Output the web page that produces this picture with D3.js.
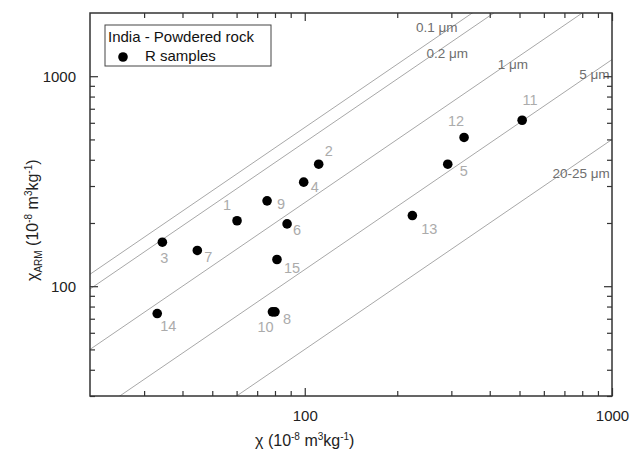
<!DOCTYPE html>
<html>
<head>
<meta charset="utf-8">
<script src="https://cdn.jsdelivr.net/npm/d3@7"></script>
<style>
  body { margin: 0; background: #fff; }
  text { font-family: Arial, "Liberation Sans", sans-serif; }
</style>
</head>
<body>
<div id="chart"></div>
<script>
// sample data: chi (x) and chi_ARM (y), 10^-8 m3/kg
const sampleIds = ["1","2","3","4","5","6","7","8","9","10","11","12","13","14","15"];
const chiValues = [60.2, 111, 34.4, 99.2, 292, 87.6, 44.7, 80.0, 75.4, 78.5, 510, 330, 224, 33.1, 81.2];
const chiArmValues = [205, 381, 162, 313, 381, 198, 148, 75.5, 255, 75.5, 617, 511, 217, 74.1, 134];

// grain-size reference lines: chiARM = ratio * chi
const grainLabels = ["0.1 μm", "0.2 μm", "1 μm", "5 μm", "20-25 μm"];
const grainRatios = [5.7, 4.85, 2.5, 1.2, 0.5];
const grainLabelChi = [269, 291, 476, 877, 793];

const xMajorTicks = [100, 1000];
const yMajorTicks = [100, 1000];
const minorTicks = [30, 40, 50, 60, 70, 80, 90, 200, 300, 400, 500, 600, 700, 800, 900];

// label placement (pixels, relative to point)
const labelOffsets = [[-10,-11],[10,-8],[2,21],[11,10],[16,12],[10,11],[11,12],[12,12],[14,8],[-7,20],[8,-15],[-8,-11],[17,18],[11,17],[15,13]];
const grainLabelDy = [-5, 13.5, 9, 7.6, 17.5];

const margin = {top: 13, right: 28, bottom: 56, left: 90};
const width = 640 - margin.left - margin.right;
const height = 452 - margin.top - margin.bottom;

const svg = d3.select("#chart").append("svg")
    .attr("width", 640)
    .attr("height", 452)
    .append("g")
    .attr("transform", `translate(${margin.left},${margin.top})`);

const x = d3.scaleLog().domain([20, 1000]).range([0, width]);
const y = d3.scaleLog().domain([30, 2000]).range([height, 0]);

svg.append("clipPath").attr("id", "clip")
    .append("rect").attr("width", width).attr("height", height);

// reference lines
const line = d3.line().x(d => x(d[0])).y(d => y(d[1]));
svg.append("g").attr("clip-path", "url(#clip)")
    .selectAll("path")
    .data(grainRatios)
    .join("path")
    .attr("d", k => line([[20, 20 * k], [1000, 1000 * k]]))
    .attr("fill", "none")
    .attr("stroke", "#a8a8a8")
    .attr("stroke-width", 1);

svg.append("g").selectAll("text")
    .data(grainLabels)
    .join("text")
    .attr("x", (d, i) => x(grainLabelChi[i]))
    .attr("y", (d, i) => y(grainLabelChi[i] * grainRatios[i]) + grainLabelDy[i])
    .attr("text-anchor", "middle")
    .attr("font-size", 13.5)
    .attr("fill", "#6e6e6e")
    .text(d => d);

// axes
function drawAxis(axisFn, transform, major, fmt) {
    let g = svg.append("g").attr("transform", transform);
    g.call(axisFn(major === "x" ? x : y).tickValues(minorTicks).tickSize(-5).tickFormat(""));
    g.call(g2 => g2.select(".domain").remove());
    let g3 = svg.append("g").attr("transform", transform);
    g3.call(axisFn(major === "x" ? x : y).tickValues(major === "x" ? xMajorTicks : yMajorTicks)
        .tickSize(-8).tickPadding(fmt ? 14 : 0).tickFormat(fmt ? d3.format("d") : ""));
    g3.select(".domain").remove();
    svg.selectAll(".tick line").attr("stroke", "#333").attr("stroke-width", 1.2);
    g3.selectAll("text").attr("font-size", 15).attr("fill", "#222").attr("font-family", "Arial, 'Liberation Sans', sans-serif");
}
drawAxis(d3.axisBottom, `translate(0,${height})`, "x", true);
drawAxis(d3.axisTop, "translate(0,0)", "x", false);
drawAxis(d3.axisLeft, "translate(0,0)", "y", true);
drawAxis(d3.axisRight, `translate(${width},0)`, "y", false);

svg.append("rect")
    .attr("width", width).attr("height", height)
    .attr("fill", "none").attr("stroke", "#333").attr("stroke-width", 1.5);

// points
svg.append("g").selectAll("circle")
    .data(sampleIds)
    .join("circle")
    .attr("cx", (d, i) => x(chiValues[i]))
    .attr("cy", (d, i) => y(chiArmValues[i]))
    .attr("r", 4.8)
    .attr("fill", "#000");

svg.append("g").selectAll("text")
    .data(sampleIds)
    .join("text")
    .attr("x", (d, i) => x(chiValues[i]) + labelOffsets[i][0])
    .attr("y", (d, i) => y(chiArmValues[i]) + labelOffsets[i][1])
    .attr("text-anchor", "middle")
    .attr("font-size", 14.5)
    .attr("fill", "#ababab")
    .text(d => d);

// legend
const legend = svg.append("g").attr("transform", "translate(15,12)");
legend.append("rect")
    .attr("width", 166).attr("height", 41)
    .attr("fill", "#fff").attr("stroke", "#444").attr("stroke-width", 1);
legend.append("text").attr("x", 3).attr("y", 17)
    .attr("font-size", 15).attr("fill", "#111").text("India - Powdered rock");
legend.append("circle").attr("cx", 18).attr("cy", 32).attr("r", 4.8).attr("fill", "#000");
legend.append("text").attr("x", 40).attr("y", 36)
    .attr("font-size", 15).attr("fill", "#111").text("R samples");

// axis titles
const xTitle = svg.append("text")
    .attr("x", x(100)).attr("y", height + 50)
    .attr("text-anchor", "middle").attr("font-size", 16).attr("fill", "#222");
xTitle.append("tspan").text("χ (10");
xTitle.append("tspan").attr("dy", -6).attr("font-size", 10).text("-8");
xTitle.append("tspan").attr("dy", 6).text(" m");
xTitle.append("tspan").attr("dy", -6).attr("font-size", 10).text("3");
xTitle.append("tspan").attr("dy", 6).text("kg");
xTitle.append("tspan").attr("dy", -6).attr("font-size", 10).text("-1");
xTitle.append("tspan").attr("dy", 6).text(")");

const yTitle = svg.append("text")
    .attr("transform", `translate(-52,${y(100) - 66}) rotate(-90)`)
    .attr("text-anchor", "middle").attr("font-size", 16).attr("fill", "#222");
yTitle.append("tspan").text("χ");
yTitle.append("tspan").attr("dy", 4).attr("font-size", 10).text("ARM");
yTitle.append("tspan").attr("dy", -4).text(" (10");
yTitle.append("tspan").attr("dy", -6).attr("font-size", 10).text("-8");
yTitle.append("tspan").attr("dy", 6).text(" m");
yTitle.append("tspan").attr("dy", -6).attr("font-size", 10).text("3");
yTitle.append("tspan").attr("dy", 6).text("kg");
yTitle.append("tspan").attr("dy", -6).attr("font-size", 10).text("-1");
yTitle.append("tspan").attr("dy", 6).text(")");
</script>
</body>
</html>
